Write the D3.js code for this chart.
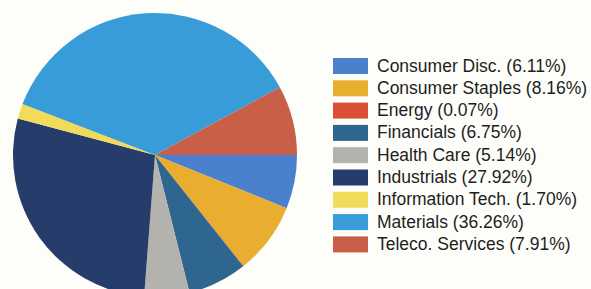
<!DOCTYPE html>
<html>
<head>
<meta charset="utf-8">
<script src="https://cdn.jsdelivr.net/npm/d3@7"></script>
<style>
  body { margin: 0; background: #fdfdf9; }
  svg { display: block; }
</style>
</head>
<body>
<script>
// sector weights, in legend order
const sectors = ['Consumer Disc.', 'Consumer Staples', 'Energy', 'Financials', 'Health Care',
  'Industrials', 'Information Tech.', 'Materials', 'Teleco. Services'];
const weights = [6.11, 8.16, 0.07, 6.75, 5.14, 27.92, 1.70, 36.26, 7.91];
const labels = ['6.11%', '8.16%', '0.07%', '6.75%', '5.14%', '27.92%', '1.70%', '36.26%', '7.91%'];
const colors = ['#4a80cc', '#e9ae2f', '#dd5038', '#2f6690', '#b4b2ae',
  '#263d6b', '#f1dc5a', '#389cd8', '#c95f48'];

const width = 591, height = 289;
const cx = 155, cy = 155, radius = 142;

const svg = d3.select('body').append('svg')
  .attr('width', width)
  .attr('height', height);

const data = sectors.map(function (s, i) {
  return { name: s, value: weights[i], label: labels[i], color: colors[i] };
});

// pie starts at 3 o'clock, goes clockwise
const pie = d3.pie()
  .sort(null)
  .value(function (d) { return d.value; })
  .startAngle(Math.PI / 2)
  .endAngle(Math.PI / 2 + 2 * Math.PI);

const arc = d3.arc().innerRadius(0).outerRadius(radius);

svg.append('g')
  .attr('transform', 'translate(' + cx + ',' + cy + ')')
  .selectAll('path')
  .data(pie(data))
  .join('path')
  .attr('d', arc)
  .attr('fill', function (d) { return d.data.color; });

// legend
const legend = svg.append('g')
  .attr('transform', 'translate(333,58)');

const rowH = 22.3;
const rows = legend.selectAll('g')
  .data(data)
  .join('g')
  .attr('transform', function (d, i) { return 'translate(0,' + (i * rowH) + ')'; });

rows.append('rect')
  .attr('width', 35)
  .attr('height', 16)
  .attr('fill', function (d) { return d.color; });

rows.append('text')
  .attr('x', 44)
  .attr('y', 13.5)
  .style('font-family', 'Liberation Sans, Arial, sans-serif')
  .style('font-size', '17.5px')
  .style('fill', '#1e1e1e')
  .text(function (d) { return d.name + ' (' + d.label + ')'; });
</script>
</body>
</html>
